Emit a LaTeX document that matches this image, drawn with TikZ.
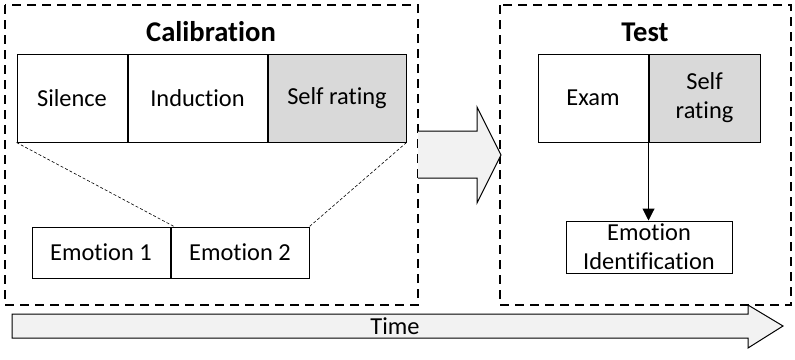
\documentclass[tikz,border=0pt]{standalone}
\usepackage{fontspec}
\setmainfont{Carlito}[Ligatures=NoCommon]
\usetikzlibrary{positioning,arrows.meta}
\definecolor{ratinggray}{HTML}{D9D9D9}
\definecolor{arrowgray}{HTML}{F2F2F2}
\tikzset{
  phase/.style={draw, line width=0.75pt, dash pattern=on 4.5pt off 3pt},
  cell/.style={draw, line width=0.5pt, inner sep=0pt, align=center,
    minimum height=44pt, font=\fontsize{12.2}{14.5}\selectfont},
  subcell/.style={cell, minimum height=25.5pt, minimum width=69pt},
  title/.style={font=\fontsize{14.3}{17}\selectfont\bfseries}
}
\begin{document}
\begin{tikzpicture}[x=0.5pt, y=-0.5pt, line join=miter]
  \useasboundingbox (0,0) rectangle (795,359);

  % Phasen
  \draw[phase] (5,5) rectangle (418,305);
  \draw[phase] (500,5) rectangle (791,305);
  \node[title] (calib) at (211,32) {Calibration};
  \node[title] (test) at (645,32) {Test};

  % Kalibrierung
  \node[cell, minimum width=55pt] (silence) at (72,98) {Silence};
  \node[cell, minimum width=69.5pt, right=0pt of silence] (induction) {Induction};
  \node[cell, minimum width=69pt, fill=ratinggray, right=0pt of induction] (calrating) {Self rating};
  \node[subcell] (emoone) at (101,252.5) {Emotion 1};
  \node[subcell, right=0pt of emoone] (emotwo) {Emotion 2};
  \coordinate (zoom) at (175,227);

  % Zoom-Linien
  \draw[line width=0.3pt, dash pattern=on 1.5pt off 1pt] (silence.south west) -- (zoom);
  \draw[line width=0.3pt, dash pattern=on 1.5pt off 1pt] (calrating.south east) -- (emotwo.north east);

  % Test
  \node[cell, minimum width=55pt] (exam) at (593,98) {Exam};
  \node[cell, minimum width=55.5pt, fill=ratinggray, right=0pt of exam] (testrating) {Self\\rating};
  \node[cell, minimum width=83pt, minimum height=26pt] (ident) at (649,247) {Emotion\\Identification};
  \draw[line width=0.5pt, -{Triangle[width=6pt,length=6pt]}] (exam.south east) -- (exam.south east |- ident.north);

  % Pfeil zwischen den Phasen
  \fill[arrowgray] (418,131) -- (477,131) -- (477,107) -- (501,155) -- (477,203) -- (477,178) -- (418,178) -- cycle;
  \draw[line width=0.5pt] (418,131) -- (477,131) -- (477,107) -- (501,155) -- (477,203) -- (477,178) -- (418,178);

  % Zeitachse
  \filldraw[fill=arrowgray, line width=0.5pt] (12,314) -- (748,314) -- (748,305) -- (783,326) -- (748,348) -- (748,338) -- (12,338) -- cycle;
  \node[font=\fontsize{12.2}{14}\selectfont] (time) at (395,326) {Time};
\end{tikzpicture}
\end{document}
